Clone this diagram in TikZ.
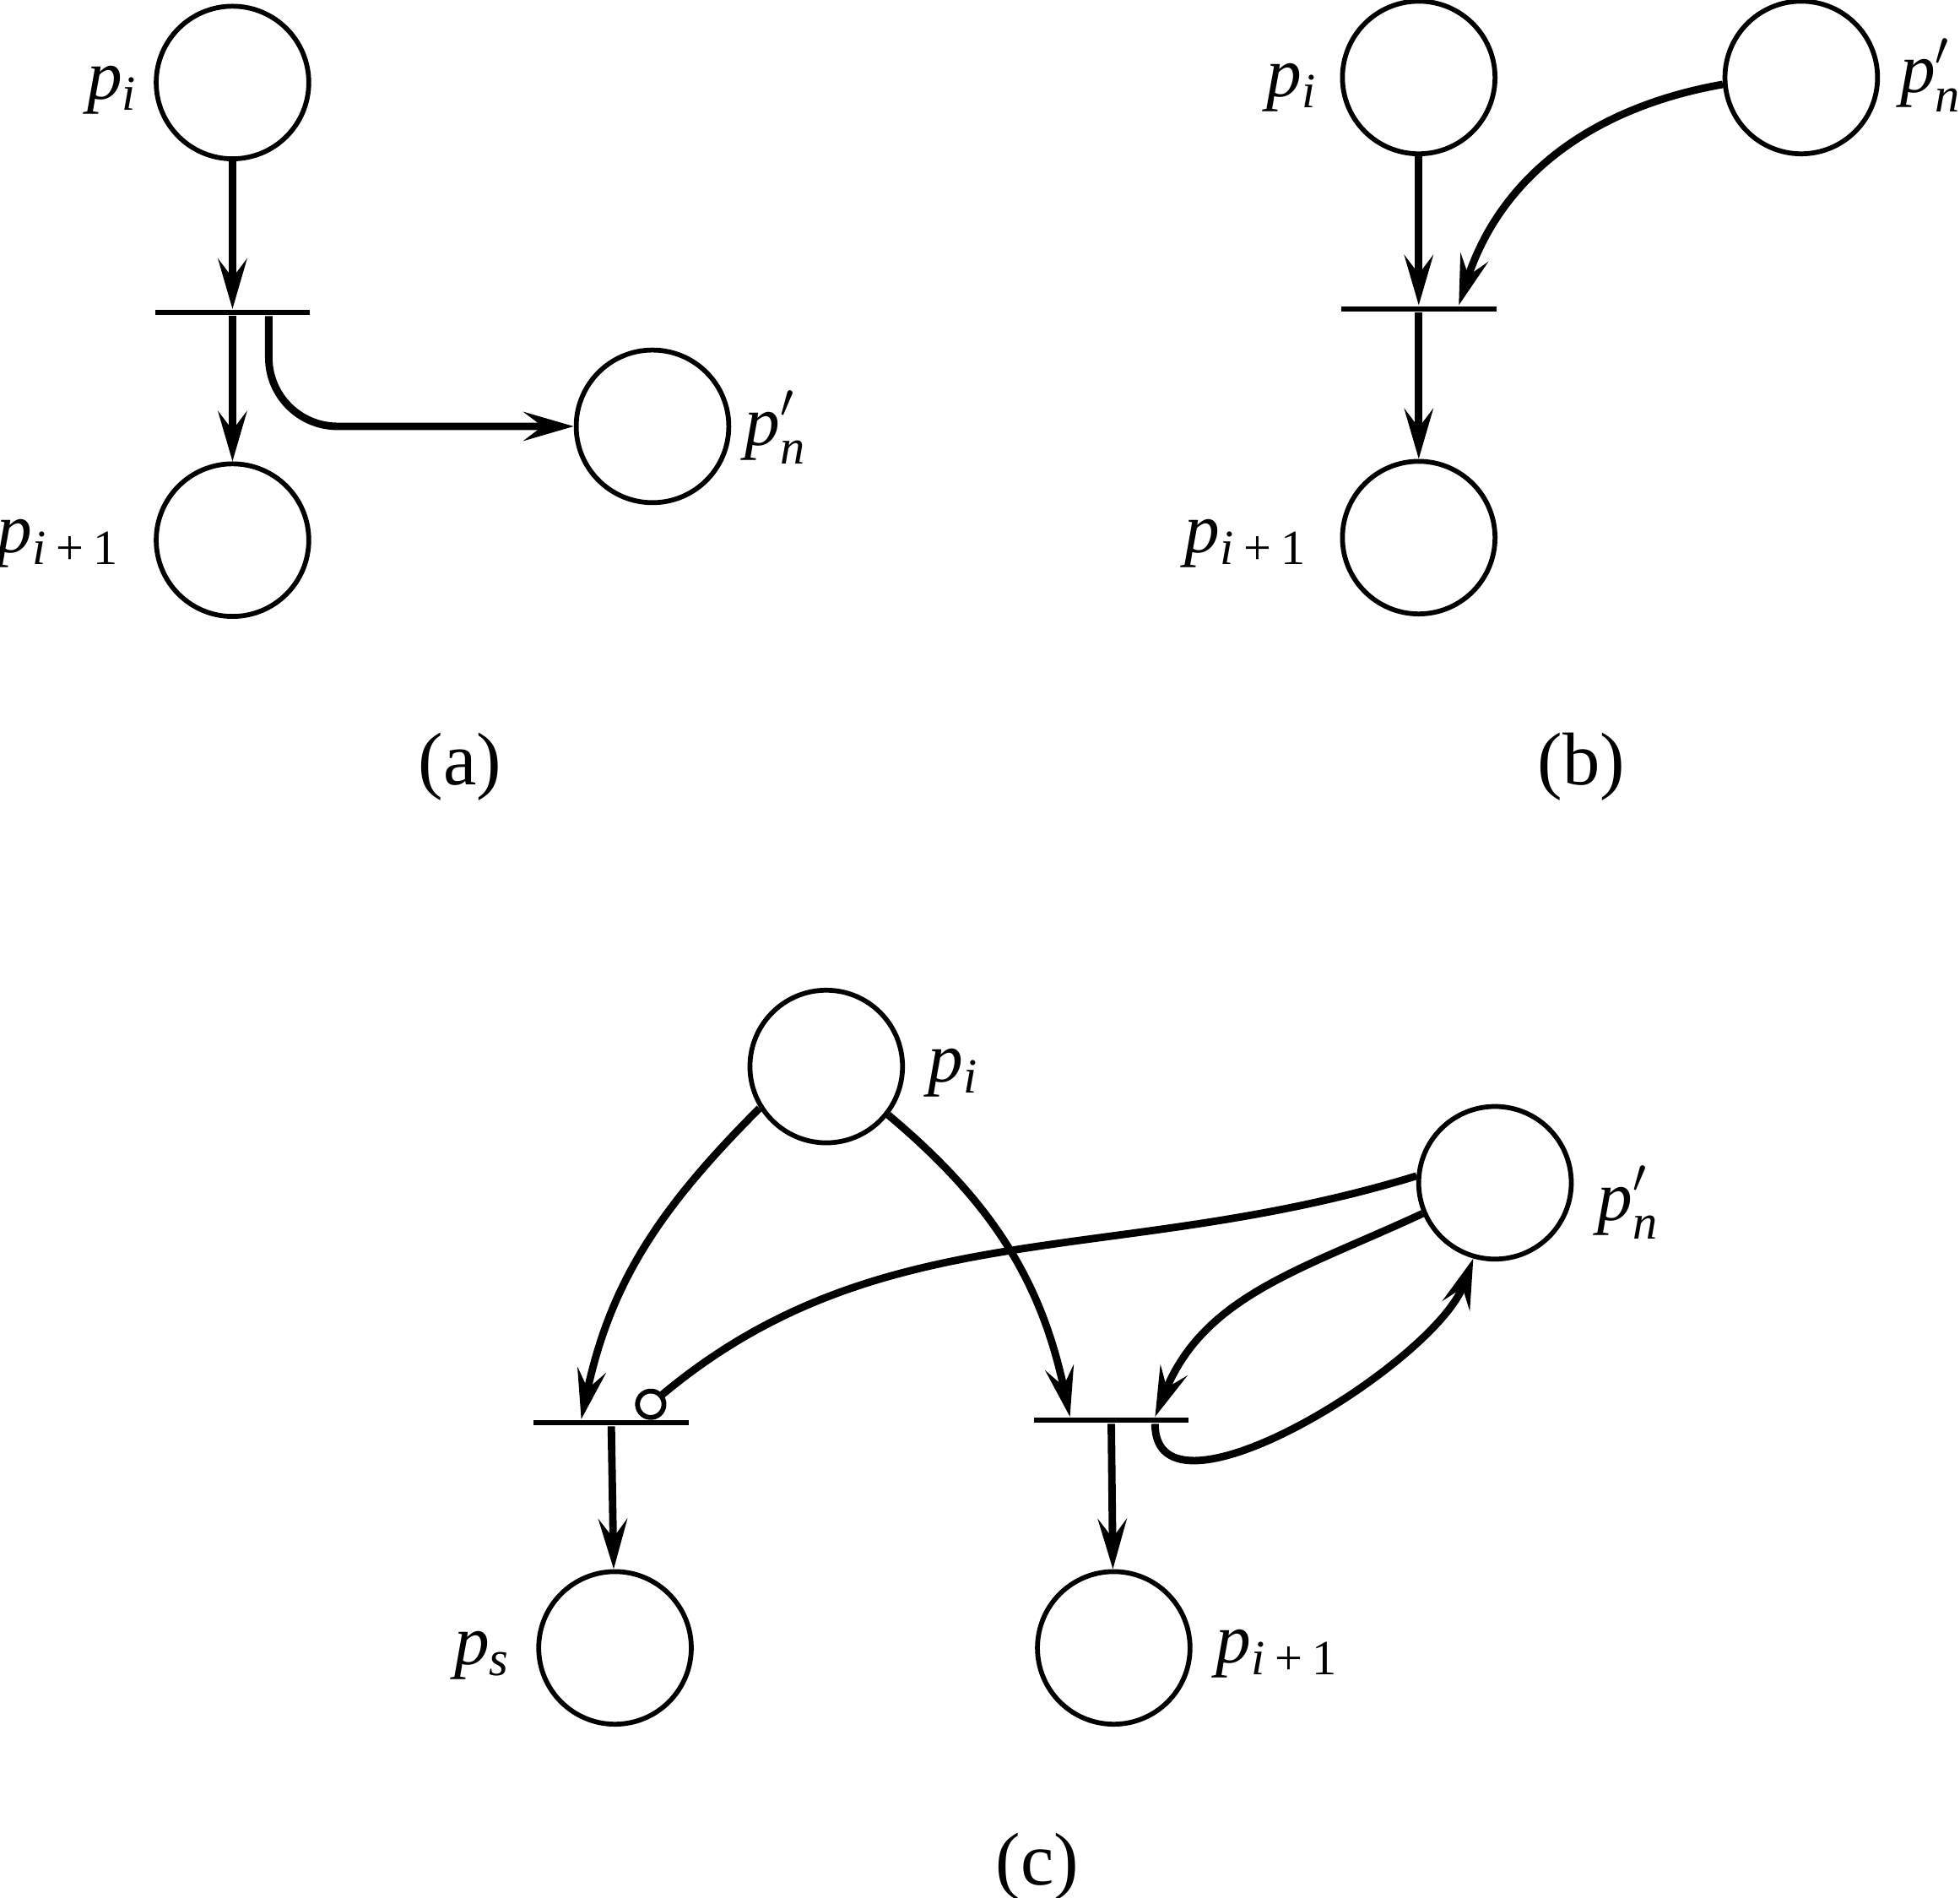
\documentclass[tikz,border=0pt]{standalone}
\usepackage{amsmath}
\usepackage{fontspec}
\setmainfont{Liberation Serif}
\usepackage{tikz}
\usetikzlibrary{arrows.meta, positioning}

\begin{document}
\begin{tikzpicture}[x=0.01cm, y=-0.01cm,
        place/.style={circle, draw, line width=1.1pt, minimum size=1.22cm, inner sep=0pt},
        trans/.style={rectangle, fill=black, minimum width=1.24cm, minimum height=1.2pt, inner sep=0pt},
        flow/.style={-{Stealth[length=4mm, width=2.3mm, inset=1.5mm]}, line width=1.7pt},
        inhib/.style={-{Circle[open, length=2.5mm, line width=1.1pt]}, line width=1.7pt},
        tag/.style={font=\fontsize{16}{19}\selectfont, inner sep=0pt},
        panel/.style={font=\fontsize{17}{20}\selectfont, inner sep=0pt}
    ]
    \useasboundingbox (0,0) rectangle (1568,1518);

    % (a) 库所与变迁
    \node[place] (pa_i) at (186,66) {};
    \node[trans] (ta) at (186,250) {};
    \node[place] (pa_j) at (186,432) {};
    \node[place] (pa_n) at (522,341) {};
    \node[tag] (la_i) at (90,72) {\textit{p}\textsubscript{\textit{i}}};
    \node[tag] (la_j) at (47,435) {\textit{p}\textsubscript{\textit{i}\hspace{0.2em}+\hspace{0.2em}1}};
    \node[tag] (la_n) at (621,342) {\textit{p}$'_{\text{\itshape n}}$};
    \node[panel] (cap_a) at (368,613) {(a)};

    % (a) 弧
    \draw[flow] (pa_i) -- (ta);
    \draw[flow] (ta) -- (pa_j);
    \draw[flow, rounded corners=0.55cm] ([xshift=0.29cm]ta.south) |- (pa_n);

    % (b) 库所与变迁
    \node[place] (pb_i) at (1135,62) {};
    \node[place] (pb_n) at (1441,62) {};
    \node[trans] (tb) at (1135,247) {};
    \node[place] (pb_j) at (1135,430) {};
    \node[tag] (lb_i) at (1034,70) {\textit{p}\textsubscript{\textit{i}}};
    \node[tag] (lb_n) at (1545,60) {\textit{p}$'_{\text{\itshape n}}$};
    \node[tag] (lb_j) at (997,435) {\textit{p}\textsubscript{\textit{i}\hspace{0.2em}+\hspace{0.2em}1}};
    \node[panel] (cap_b) at (1265,613) {(b)};

    % (b) 弧
    \draw[flow] (pb_i) -- (tb);
    \draw[flow] (tb) -- (pb_j);
    \draw[flow] (pb_n.185) to[out=190, in=72] ([xshift=0.32cm]tb.north);

    % (c) 库所与变迁
    \node[place] (pc_i) at (661,853) {};
    \node[place] (pc_n) at (1196,946) {};
    \node[trans] (tc_s) at (489,1138) {};
    \node[trans] (tc_j) at (889,1136) {};
    \node[place] (pc_s) at (492,1318) {};
    \node[place] (pc_j) at (891,1318) {};
    \node[tag] (lc_i) at (763,858) {\textit{p}\textsubscript{\textit{i}}};
    \node[tag] (lc_n) at (1303,962) {\textit{p}$'_{\text{\itshape n}}$};
    \node[tag] (lc_s) at (386,1324) {\textit{p}\textsubscript{\textit{s}}};
    \node[tag] (lc_j) at (1022,1323) {\textit{p}\textsubscript{\textit{i}\hspace{0.2em}+\hspace{0.2em}1}};
    \node[panel] (cap_c) at (830,1493) {(c)};

    % (c) 弧
    \draw[flow] (pc_i.212) to[out=225, in=78] ([xshift=-0.24cm]tc_s.north);
    \draw[flow] (pc_i.-38) to[out=-40, in=102] ([xshift=-0.33cm]tc_j.north);
    \draw[flow] (tc_s) -- (pc_s);
    \draw[flow] (tc_j) -- (pc_j);
    \draw[inhib] (pc_n.175) to[out=197, in=40] ([xshift=0.22cm, yshift=0.04cm]tc_s.north);
    \draw[flow] (pc_n.203) to[out=205, in=68] ([xshift=0.35cm]tc_j.north);
    \draw[flow] ([xshift=0.35cm]tc_j.south) to[out=-90, in=250, looseness=0.8] (pc_n.254);

\end{tikzpicture}
\end{document}
